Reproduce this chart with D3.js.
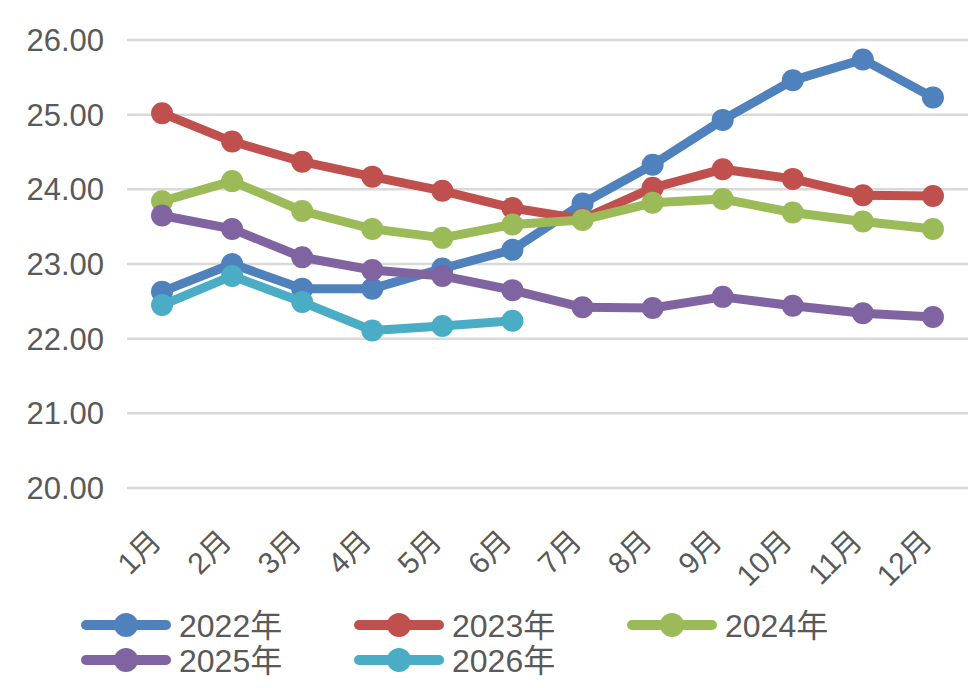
<!DOCTYPE html>
<html>
<head>
<meta charset="utf-8">
<script src="https://cdn.jsdelivr.net/npm/d3@7"></script>
<style>
  body { margin: 0; background: #fff; }
  svg { display: block; font-family: "Liberation Sans", Arial, "Noto Sans CJK SC", sans-serif; }
</style>
</head>
<body>
<svg width="980" height="688"></svg>
<script>
// monthly values
var months = ['1月', '2月', '3月', '4月', '5月', '6月', '7月', '8月', '9月', '10月', '11月', '12月'];
var yTicks = [20, 21, 22, 23, 24, 25, 26];

var y2022 = [22.63, 23.0, 22.67, 22.67, 22.94, 23.19, 23.81, 24.33, 24.93, 25.46, 25.74, 25.23];
var y2023 = [25.02, 24.64, 24.37, 24.17, 23.98, 23.75, 23.6, 24.02, 24.27, 24.14, 23.92, 23.91];
var y2024 = [23.84, 24.11, 23.71, 23.47, 23.35, 23.53, 23.59, 23.82, 23.87, 23.69, 23.57, 23.47];
var y2025 = [23.65, 23.47, 23.09, 22.92, 22.84, 22.65, 22.42, 22.41, 22.56, 22.44, 22.34, 22.29];
var y2026 = [22.45, 22.84, 22.49, 22.11, 22.17, 22.24];

var seriesNames = ['2022年', '2023年', '2024年', '2025年', '2026年'];
var seriesColors = ['#4f81bd', '#c0504d', '#9bbb59', '#8064a2', '#4bacc6'];

var series = [y2022, y2023, y2024, y2025, y2026].map(function(vals, i) {
  return {
    name: seriesNames[i],
    color: seriesColors[i],
    points: vals.map(function(v, j) { return { m: months[j], v: v }; })
  };
});

var svg = d3.select('svg');
var textColor = '#595959';

var x = d3.scaleBand().domain(months).range([127, 968]);
var y = d3.scaleLinear().domain([20, 26]).range([488, 40]);
var cx = function(m) { return x(m) + x.bandwidth() / 2; };

// gridlines
svg.append('g').selectAll('line')
  .data(yTicks).enter().append('line')
  .attr('x1', 127).attr('x2', 968)
  .attr('y1', function(d) { return y(d); })
  .attr('y2', function(d) { return y(d); })
  .attr('stroke', '#d9d9d9')
  .attr('stroke-width', 2.5);

// y labels
svg.append('g').selectAll('text')
  .data(yTicks).enter().append('text')
  .attr('x', 104)
  .attr('y', function(d) { return y(d); })
  .attr('dy', '0.36em')
  .attr('text-anchor', 'end')
  .attr('font-size', 31)
  .attr('fill', textColor)
  .text(function(d) { return d3.format('.2f')(d); });

// x labels, rotated
svg.append('g').selectAll('text')
  .data(months).enter().append('text')
  .attr('transform', function(d) { return 'translate(' + (cx(d) + 1) + ',543) rotate(-45)'; })
  .attr('text-anchor', 'end')
  .attr('font-size', 30)
  .attr('fill', textColor)
  .text(function(d) { return d; });

var line = d3.line()
  .x(function(d) { return cx(d.m); })
  .y(function(d) { return y(d.v); });

var groups = svg.selectAll('g.series')
  .data(series).enter().append('g')
  .attr('class', 'series');

groups.append('path')
  .attr('d', function(s) { return line(s.points); })
  .attr('fill', 'none')
  .attr('stroke', function(s) { return s.color; })
  .attr('stroke-width', 9)
  .attr('stroke-linejoin', 'round');

groups.selectAll('circle')
  .data(function(s) { return s.points.map(function(p) { return { m: p.m, v: p.v, color: s.color }; }); })
  .enter().append('circle')
  .attr('cx', function(d) { return cx(d.m); })
  .attr('cy', function(d) { return y(d.v); })
  .attr('r', 11)
  .attr('fill', function(d) { return d.color; });

// legend
var legendX = [82, 355, 628];
var legendY = [625, 660];
var legend = svg.selectAll('g.legend')
  .data(series).enter().append('g')
  .attr('class', 'legend')
  .attr('transform', function(s, i) {
    return 'translate(' + legendX[i % 3] + ',' + legendY[Math.floor(i / 3)] + ')';
  });

legend.append('line')
  .attr('x1', 4).attr('x2', 84)
  .attr('stroke', function(s) { return s.color; })
  .attr('stroke-width', 10)
  .attr('stroke-linecap', 'round');

legend.append('circle')
  .attr('cx', 44)
  .attr('r', 12)
  .attr('fill', function(s) { return s.color; });

legend.append('text')
  .attr('x', 97)
  .attr('dy', '0.36em')
  .attr('font-size', 32)
  .attr('fill', textColor)
  .text(function(s) { return s.name; });
</script>
</body>
</html>
